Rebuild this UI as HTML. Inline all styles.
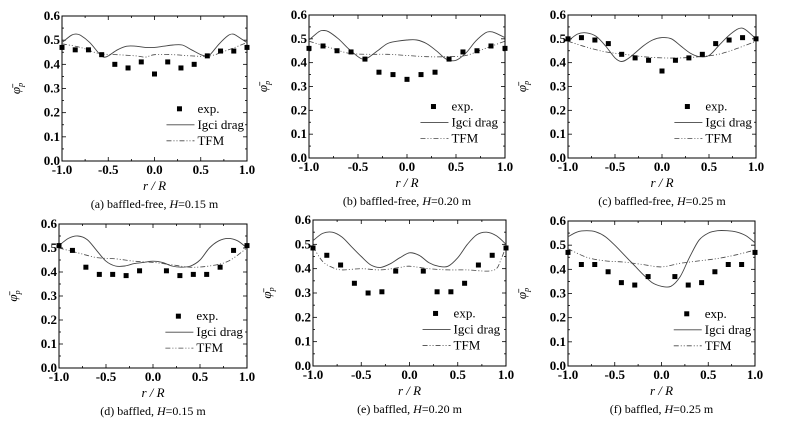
<!DOCTYPE html>
<html><head><meta charset="utf-8">
<style>
html,body{margin:0;padding:0;background:#fff;}
svg{display:block;}
svg text{font-family:"Liberation Serif","Times New Roman",serif;}
</style></head>
<body>
<svg id="chart" width="792" height="427" viewBox="0 0 792 427" xmlns="http://www.w3.org/2000/svg" font-family="Liberation Serif, serif"></svg>
<script>
// ---- data ----
const expX15 = [-1,-0.857,-0.714,-0.571,-0.429,-0.286,-0.143,0,0.143,0.286,0.429,0.571,0.714,0.857,1];
const expX14 = [-1,-0.857,-0.714,-0.571,-0.429,-0.286,-0.143,0.143,0.286,0.429,0.571,0.714,0.857,1];
const xTicks = [-1.0,-0.5,0.0,0.5,1.0];
const xTickLabels = ["-1.0","-0.5","0.0","0.5","1.0"];
const yTicks = [0,0.1,0.2,0.3,0.4,0.5,0.6];
const yTickLabels = ["0.0","0.1","0.2","0.3","0.4","0.5","0.6"];
const captions = ["baffled-free","baffled-free","baffled-free","baffled","baffled","baffled"];
const heights = ["0.15","0.20","0.25","0.15","0.20","0.25"];
const letters = ["a","b","c","d","e","f"];

const expA = [.47,.46,.46,.44,.40,.385,.41,.36,.41,.385,.40,.435,.455,.455,.47];
const expB = [.46,.47,.45,.445,.415,.36,.35,.33,.35,.36,.415,.445,.45,.47,.46];
const expC = [.50,.505,.495,.48,.435,.42,.41,.365,.41,.42,.435,.48,.495,.505,.50];
const expD = [.51,.49,.42,.39,.39,.385,.405,.405,.385,.39,.39,.42,.49,.51];
const expE = [.485,.455,.415,.34,.30,.305,.39,.39,.305,.305,.34,.415,.455,.485];
const expF = [.47,.42,.42,.39,.345,.335,.37,.37,.335,.345,.39,.42,.42,.47];

const igciAx = [-1,-.9,-.85,-.8,-.7,-.6,-.55,-.5,-.4,-.3,-.2,-.1,0,.1,.2,.3,.4,.5,.55,.6,.7,.8,.85,.9,1];
const igciA  = [.49,.52,.525,.52,.49,.445,.43,.435,.46,.475,.475,.47,.47,.475,.48,.48,.46,.44,.435,.44,.485,.52,.525,.515,.49];
const igciBx = [-1,-.9,-.85,-.8,-.7,-.6,-.5,-.45,-.4,-.3,-.2,-.1,0,.1,.2,.3,.4,.5,.6,.7,.8,.85,.9,1];
const igciB  = [.495,.53,.535,.53,.5,.46,.425,.415,.42,.45,.48,.49,.495,.495,.48,.45,.415,.41,.44,.49,.525,.53,.525,.505];
const igciCx = [-1,-.9,-.8,-.7,-.6,-.5,-.43,-.35,-.2,-.1,0,.1,.2,.3,.4,.5,.6,.7,.8,.85,.9,1];
const igciC  = [.49,.52,.525,.51,.47,.42,.405,.42,.47,.495,.505,.5,.47,.44,.425,.43,.47,.51,.54,.545,.535,.5];
const igciDx = [-1,-.9,-.8,-.7,-.6,-.5,-.4,-.3,-.2,-.1,0,.1,.2,.3,.4,.5,.6,.7,.8,.9,1];
const igciD  = [.51,.54,.55,.535,.49,.445,.425,.425,.435,.44,.445,.44,.425,.42,.425,.45,.5,.53,.54,.53,.5];
const igciEx = [-1,-.9,-.8,-.7,-.6,-.5,-.4,-.3,-.2,-.1,0,.1,.2,.3,.4,.5,.6,.7,.8,.9,1];
const igciE  = [.515,.545,.55,.53,.49,.45,.415,.405,.42,.445,.465,.455,.425,.41,.41,.445,.5,.54,.55,.535,.5];
const igciFx = [-1,-.9,-.8,-.7,-.6,-.5,-.4,-.3,-.2,-.1,0,.1,.2,.3,.4,.5,.6,.7,.8,.9,1];
const igciF  = [.535,.555,.56,.555,.535,.5,.46,.42,.38,.345,.33,.33,.37,.45,.52,.55,.56,.56,.555,.54,.51];

const tfmAx = [-1,-.8,-.6,-.4,-.2,-.1,0,.2,.4,.6,.8,1];
const tfmA  = [.485,.47,.445,.44,.435,.43,.44,.44,.435,.435,.46,.49];
const tfmBx = [-1,-.8,-.6,-.4,-.2,0,.2,.4,.6,.8,1];
const tfmB  = [.49,.465,.44,.435,.435,.43,.425,.425,.43,.46,.49];
const tfmCx = [-1,-.8,-.6,-.4,-.2,0,.2,.4,.6,.8,1];
const tfmC  = [.49,.465,.445,.435,.425,.42,.42,.425,.435,.46,.49];
const tfmDx = [-1,-.8,-.6,-.4,-.2,0,.2,.4,.6,.8,1];
const tfmD  = [.50,.48,.46,.455,.445,.44,.43,.42,.425,.445,.50];
const tfmEx = [-1,-.9,-.8,-.7,-.5,-.3,-.1,0,.2,.4,.6,.8,.9,.95,1];
const tfmE  = [.49,.43,.405,.395,.4,.395,.405,.41,.4,.395,.395,.39,.4,.44,.49];
const tfmFx = [-1,-.8,-.6,-.4,-.2,0,.2,.4,.6,.8,1];
const tfmF  = [.485,.45,.435,.43,.42,.41,.425,.435,.445,.46,.48];

const panels = [
 {box:[62,16,247,161],ex:expX15,ey:expA,ix:igciAx,iy:igciA,tx:tfmAx,ty:tfmA},
 {box:[309,15,505,158],ex:expX15,ey:expB,ix:igciBx,iy:igciB,tx:tfmBx,ty:tfmB},
 {box:[568,15,756,158],ex:expX15,ey:expC,ix:igciCx,iy:igciC,tx:tfmCx,ty:tfmC},
 {box:[59,224,247,368],ex:expX14,ey:expD,ix:igciDx,iy:igciD,tx:tfmDx,ty:tfmD},
 {box:[313,220,506,366],ex:expX14,ey:expE,ix:igciEx,iy:igciE,tx:tfmEx,ty:tfmE},
 {box:[568,221,755,366],ex:expX14,ey:expF,ix:igciFx,iy:igciF,tx:tfmFx,ty:tfmF}
];

const NS="http://www.w3.org/2000/svg";
const FF="Liberation Serif, serif";
const svg=document.getElementById('chart');
function mk(tag,attrs,parent,txt){const e=document.createElementNS(NS,tag);for(const k in attrs)e.setAttribute(k,attrs[k]);if(tag==='text')e.setAttribute('font-family',FF);if(txt!==undefined)e.textContent=txt;parent.appendChild(e);return e;}
function smooth(pts){
  let d="M"+pts[0][0].toFixed(1)+","+pts[0][1].toFixed(1);
  for(let i=0;i<pts.length-1;i++){
    const p0=pts[Math.max(0,i-1)],p1=pts[i],p2=pts[i+1],p3=pts[Math.min(pts.length-1,i+2)];
    const c1=[p1[0]+(p2[0]-p0[0])/6,p1[1]+(p2[1]-p0[1])/6];
    const c2=[p2[0]-(p3[0]-p1[0])/6,p2[1]-(p3[1]-p1[1])/6];
    d+=" C"+c1[0].toFixed(1)+","+c1[1].toFixed(1)+" "+c2[0].toFixed(1)+","+c2[1].toFixed(1)+" "+p2[0].toFixed(1)+","+p2[1].toFixed(1);
  }
  return d;
}

panels.forEach((p,pi)=>{
  const [L,T,R,B]=p.box; const W=R-L,H=B-T;
  const sx=v=>L+(v+1)/2*W;
  const sy=v=>B-v/0.6*H;
  const g=mk('g',{},svg);
  
  
  const fr=mk('rect',{x:L,y:T,width:W,height:H,fill:'none',stroke:'#000','stroke-width':1},g);
  
  
  for(let v=-1;v<=1.001;v+=0.25){
    const major=Math.abs(Math.round(v*2)-v*2)<1e-6; const len=major?4:2;
    mk('line',{x1:sx(v),x2:sx(v),y1:B,y2:B-len,stroke:'#000','stroke-width':0.8},g);
    mk('line',{x1:sx(v),x2:sx(v),y1:T,y2:T+len,stroke:'#000','stroke-width':0.8},g);
  }
  xTicks.forEach((v,i)=>{
    const t=mk('text',{x:sx(v),y:B+13,'font-size':13,'font-weight':'bold','text-anchor':'middle'},g,xTickLabels[i]);
    
    
  });
  for(let v=0;v<=0.6001;v+=0.05){
    const major=Math.abs(Math.round(v*10)-v*10)<1e-6; const len=major?4:2;
    mk('line',{x1:L,x2:L+len,y1:sy(v),y2:sy(v),stroke:'#000','stroke-width':0.8},g);
    mk('line',{x1:R,x2:R-len,y1:sy(v),y2:sy(v),stroke:'#000','stroke-width':0.8},g);
  }
  yTicks.forEach((v,i)=>{
    const t=mk('text',{x:L-2,y:sy(v)+4,'font-size':13,'font-weight':'bold','text-anchor':'end'},g,yTickLabels[i]);
    
    
  });
  const yt=mk('text',{x:0,y:0,'font-size':13,'font-style':'italic','text-anchor':'middle',transform:`translate(${L-42},${T+H/2}) rotate(-90)`},g,'φ̄');
  
  
  mk('tspan',{'font-size':8,dy:3},yt,'p');
  const xt=mk('text',{x:L+W/2,y:B+29,'font-size':13,'font-style':'italic','text-anchor':'middle'},g,'r / R');
  
  
  const cap=mk('text',{x:L+W/2,y:B+47,'font-size':12,'text-anchor':'middle'},g,`(${letters[pi]}) ${captions[pi]}, `);
  
  
  mk('tspan',{'font-style':'italic'},cap,'H');
  mk('tspan',{},cap,`=${heights[pi]} m`);
  const ig=mk('path',{d:smooth(p.ix.map((x,i)=>[sx(x),sy(p.iy[i])])),fill:'none',stroke:'#444','stroke-width':0.9},g);
  
  
  const tf=mk('path',{d:smooth(p.tx.map((x,i)=>[sx(x),sy(p.ty[i])])),fill:'none',stroke:'#444','stroke-width':0.8,'stroke-dasharray':'5,2,1,2,1,2'},g);
  
  
  p.ex.forEach((x,i)=>{
    const r=mk('rect',{x:sx(x)-2.5,y:sy(p.ey[i])-2.5,width:5,height:5,fill:'#000'},g);
    
    
  });
  const mx=L+0.635*W,my=T+0.64*H,dy=16;
  const lg=mk('g',{},g);
  
  
  mk('rect',{x:mx-2.5,y:my-2.5,width:5,height:5,fill:'#000'},lg);
  mk('text',{x:mx+18,y:my+4,'font-size':13},lg,'exp.');
  mk('line',{x1:mx-13,x2:mx+15,y1:my+dy,y2:my+dy,stroke:'#444','stroke-width':0.9},lg);
  mk('text',{x:mx+18,y:my+dy+4,'font-size':13},lg,'Igci drag');
  mk('line',{x1:mx-13,x2:mx+15,y1:my+2*dy,y2:my+2*dy,stroke:'#444','stroke-width':0.8,'stroke-dasharray':'5,2,1,2,1,2'},lg);
  mk('text',{x:mx+18,y:my+2*dy+4,'font-size':13},lg,'TFM');
});
</script>
</body></html>
